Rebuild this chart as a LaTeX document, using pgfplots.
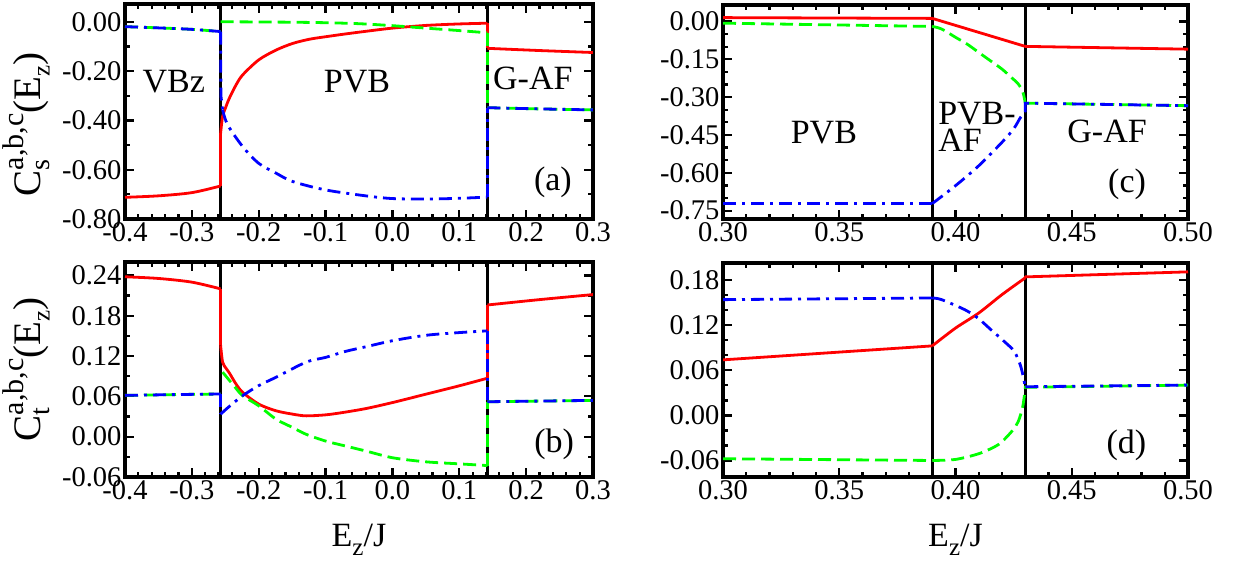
\documentclass[border=0pt]{standalone}
\usepackage{fontspec}
\setmainfont{Liberation Serif}
\usepackage{pgfplots}
\pgfplotsset{compat=1.18}

\definecolor{cred}{RGB}{255,0,0}
\definecolor{cgreen}{RGB}{0,255,0}
\definecolor{cblue}{RGB}{0,0,255}

% stacked super/subscripts set in the text font
\newcommand{\sbs}[2]{\rlap{\raisebox{-0.24em}{\fontsize{28}{28}\selectfont #1}}%
  \raisebox{0.42em}{\fontsize{30}{30}\selectfont #2}}
\newcommand{\sub}[1]{\raisebox{-0.24em}{\fontsize{25}{25}\selectfont #1}}

\pgfplotsset{
  panel/.style={
    scale only axis,
    anchor=south west,
    axis line style={line width=3.2pt},
    every tick/.style={black, line width=2.2pt},
    major tick length=9pt,
    minor tick length=5pt,
    tick label style={font=\fontsize{28.5}{28.5}\selectfont},
    /pgf/number format/assume math mode=true,
    scaled ticks=false,
    yticklabel style={/pgf/number format/.cd, fixed, fixed zerofill, precision=2},
  },
  sred/.style={cred, solid, line width=2.8pt, line join=round},
  sgreen/.style={cgreen, line width=2.8pt, dash pattern=on 13pt off 6pt},
  sblue/.style={cblue, line width=2.8pt, dash pattern=on 13pt off 6pt on 3pt off 6pt},
  phase/.style={black, solid, line width=3pt},
  ylab/.style={every axis y label/.style={at={(axis description cs:-0.16,#1)},
      rotate=90, anchor=south, inner sep=0pt, font=\fontsize{39}{39}\selectfont}},
  xlab/.style={every axis x label/.style={at={(axis description cs:0.5,0)},
      yshift=-70pt, anchor=base, inner sep=0pt, font=\fontsize{34}{34}\selectfont}},
  leftx/.style={xmin=-0.4, xmax=0.3, xtick={-0.4,-0.3,-0.2,-0.1,0,0.1,0.2,0.3},
      minor x tick num=4,
      xticklabel style={/pgf/number format/.cd, fixed, fixed zerofill, precision=1}},
  rightx/.style={xmin=0.3, xmax=0.5, xtick={0.3,0.35,0.4,0.45,0.5},
      minor x tick num=4,
      xticklabel style={/pgf/number format/.cd, fixed, fixed zerofill, precision=2}},
}
\tikzset{phasetxt/.style={inner sep=0pt, font=\fontsize{34}{34}\selectfont}}

\begin{document}
\begin{tikzpicture}
\path[use as bounding box] (0,0) rectangle (1243pt,567pt);

% (a) spin correlations, left range
\begin{axis}[panel, leftx, at={(125pt,348pt)}, width=468pt, height=215pt,
  ymin=-0.8, ymax=0.073, ytick={-0.8,-0.6,-0.4,-0.2,0}, minor y tick num=1,
  ylab=0.44, ylabel={C\sbs{s}{a,b,c}(E\sub{z})}]
\addplot[phase] coordinates {(-0.257,-0.8) (-0.257,0.073)};
\addplot[phase] coordinates {(0.142,-0.8) (0.142,0.073)};
% red
\addplot[sred, smooth] coordinates {(-0.4,-0.712) (-0.35,-0.706) (-0.30,-0.693) (-0.257,-0.666)};
\addplot[sred] coordinates {(-0.257,-0.666) (-0.257,-0.452)};
\addplot[sred, smooth] coordinates {
 (-0.257,-0.452) (-0.254,-0.384) (-0.249,-0.344) (-0.244,-0.310) (-0.234,-0.256)
 (-0.224,-0.215) (-0.2,-0.154) (-0.174,-0.114) (-0.149,-0.087) (-0.124,-0.070)
 (-0.1,-0.060) (-0.074,-0.050) (-0.04,-0.038) (0.0,-0.025) (0.05,-0.014)
 (0.1,-0.008) (0.142,-0.005)};
\addplot[sred] coordinates {(0.142,-0.005) (0.142,-0.107)};
\addplot[sred, smooth] coordinates {(0.142,-0.107) (0.22,-0.116) (0.3,-0.124)};
% green
\addplot[sgreen, smooth] coordinates {(-0.4,-0.019) (-0.35,-0.024) (-0.3,-0.030) (-0.257,-0.039)};
\addplot[sgreen, smooth] coordinates {
 (-0.257,0.001) (-0.2,0.000) (-0.15,-0.001) (-0.1,-0.003) (-0.05,-0.007)
 (0.0,-0.015) (0.05,-0.025) (0.1,-0.035) (0.142,-0.044)};
\addplot[sgreen] coordinates {(0.142,-0.044) (0.142,-0.348)};
\addplot[sgreen, smooth] coordinates {(0.142,-0.348) (0.22,-0.353) (0.3,-0.357)};
% blue
\addplot[sblue, smooth] coordinates {(-0.4,-0.019) (-0.35,-0.024) (-0.3,-0.030) (-0.257,-0.039)};
\addplot[sblue] coordinates {(-0.257,-0.039) (-0.2565,-0.30) (-0.254,-0.357)};
\addplot[sblue, smooth] coordinates {
 (-0.254,-0.357) (-0.2464,-0.418) (-0.224,-0.506) (-0.2,-0.574) (-0.174,-0.614)
 (-0.149,-0.648) (-0.1,-0.682) (-0.04,-0.706) (0.0,-0.717) (0.05,-0.719)
 (0.1,-0.716) (0.142,-0.711)};
\addplot[sblue] coordinates {(0.142,-0.711) (0.142,-0.348)};
\addplot[sblue, smooth] coordinates {(0.142,-0.348) (0.22,-0.353) (0.3,-0.357)};
\node[phasetxt] at (axis cs:-0.327,-0.244) {VBz};
\node[phasetxt] at (axis cs:-0.053,-0.244) {PVB};
\node[phasetxt] at (axis cs:0.210,-0.231) {G-AF};
\node[phasetxt] at (axis cs:0.240,-0.650) {(a)};
\end{axis}

% (b) transverse correlations, left range
\begin{axis}[panel, leftx, at={(125pt,90pt)}, width=468pt, height=215pt,
  ymin=-0.06, ymax=0.26, ytick={-0.06,0,0.06,0.12,0.18,0.24}, minor y tick num=1,
  ylab=0.5, ylabel={C\sbs{t}{a,b,c}(E\sub{z})},
  xlab, xlabel={E\sub{z}/J}]
\addplot[phase] coordinates {(-0.257,-0.06) (-0.257,0.26)};
\addplot[phase] coordinates {(0.142,-0.06) (0.142,0.26)};
% red
\addplot[sred, smooth] coordinates {(-0.4,0.238) (-0.35,0.2355) (-0.3,0.230) (-0.257,0.220)};
\addplot[sred] coordinates {(-0.257,0.220) (-0.257,0.136)};
\addplot[sred, smooth] coordinates {
 (-0.257,0.136) (-0.254,0.111) (-0.249,0.102) (-0.244,0.095) (-0.234,0.0785)
 (-0.224,0.066) (-0.2,0.0485) (-0.174,0.0385) (-0.149,0.0335) (-0.129,0.031)
 (-0.1,0.0325) (-0.074,0.036) (-0.039,0.042) (0.001,0.051) (0.051,0.0635)
 (0.101,0.076) (0.142,0.087)};
\addplot[sred] coordinates {(0.142,0.087) (0.142,0.196)};
\addplot[sred, smooth] coordinates {(0.142,0.196) (0.22,0.204) (0.3,0.2115)};
% green
\addplot[sgreen, smooth] coordinates {(-0.4,0.0615) (-0.3,0.063) (-0.257,0.0635)};
\addplot[sgreen, smooth] coordinates {
 (-0.254,0.096) (-0.244,0.084) (-0.234,0.072) (-0.224,0.061) (-0.2,0.046)
 (-0.174,0.026) (-0.149,0.0135) (-0.129,0.0035) (-0.1,-0.0065) (-0.074,-0.013)
 (-0.039,-0.0215) (0.001,-0.0315) (0.051,-0.0375) (0.101,-0.0405) (0.142,-0.043)};
\addplot[sgreen] coordinates {(0.142,-0.043) (0.142,0.052)};
\addplot[sgreen, smooth] coordinates {(0.142,0.052) (0.22,0.053) (0.3,0.054)};
% blue
\addplot[sblue, smooth] coordinates {(-0.4,0.0615) (-0.3,0.063) (-0.257,0.0635)};
\addplot[sblue] coordinates {(-0.257,0.0635) (-0.257,0.0335)};
\addplot[sblue, smooth] coordinates {
 (-0.257,0.0335) (-0.244,0.045) (-0.224,0.061) (-0.2,0.076) (-0.174,0.0885)
 (-0.129,0.111) (-0.1,0.118) (-0.07,0.127) (-0.039,0.134) (0.001,0.143)
 (0.051,0.151) (0.101,0.155) (0.142,0.1575)};
\addplot[sblue] coordinates {(0.142,0.1575) (0.142,0.052)};
\addplot[sblue, smooth] coordinates {(0.142,0.052) (0.22,0.053) (0.3,0.054)};
\node[phasetxt] at (axis cs:0.242,-0.0113) {(b)};
\end{axis}

% (c) spin correlations, right range
\begin{axis}[panel, rightx, at={(723pt,348pt)}, width=465pt, height=214pt,
  ymin=-0.783, ymax=0.065, ytick={-0.75,-0.6,-0.45,-0.3,-0.15,0}, minor y tick num=2]
\addplot[phase] coordinates {(0.39,-0.783) (0.39,0.065)};
\addplot[phase] coordinates {(0.43,-0.783) (0.43,0.065)};
\addplot[sred] coordinates {(0.30,0.015) (0.39,0.012) (0.43,-0.099) (0.50,-0.110)};
\addplot[sgreen] coordinates {(0.30,-0.007) (0.39,-0.020)};
\addplot[sgreen, smooth] coordinates {
 (0.39,-0.020) (0.394,-0.030) (0.40,-0.063) (0.405,-0.090)
 (0.41,-0.123) (0.415,-0.156) (0.42,-0.189) (0.424,-0.222) (0.427,-0.248)
 (0.429,-0.281) (0.43,-0.324)};
\addplot[sgreen] coordinates {(0.43,-0.324) (0.50,-0.334)};
\addplot[sblue] coordinates {(0.30,-0.722) (0.39,-0.722)};
\addplot[sblue, smooth] coordinates {
 (0.39,-0.722) (0.40,-0.651) (0.41,-0.572) (0.42,-0.479)
 (0.425,-0.426) (0.428,-0.380) (0.43,-0.360)};
\addplot[sblue] coordinates {(0.43,-0.360) (0.43,-0.324) (0.50,-0.334)};
\node[phasetxt] at (axis cs:0.3434,-0.4415) {PVB};
\node[phasetxt, anchor=north west, align=left, font=\fontsize{34}{27}\selectfont]
  at (axis cs:0.3925,-0.3196) {PVB-\\AF};
\node[phasetxt] at (axis cs:0.4652,-0.434) {G-AF};
\node[phasetxt] at (axis cs:0.4738,-0.645) {(c)};
\end{axis}

% (d) transverse correlations, right range
\begin{axis}[panel, rightx, at={(723pt,90pt)}, width=465pt, height=214pt,
  ymin=-0.082, ymax=0.203, ytick={-0.06,0,0.06,0.12,0.18}, minor y tick num=2,
  xlab, xlabel={E\sub{z}/J}]
\addplot[phase] coordinates {(0.39,-0.082) (0.39,0.203)};
\addplot[phase] coordinates {(0.43,-0.082) (0.43,0.203)};
\addplot[sred] coordinates {(0.30,0.074) (0.39,0.0926)};
\addplot[sred, smooth] coordinates {
 (0.39,0.0926) (0.40,0.1163) (0.41,0.1364) (0.42,0.1609) (0.43,0.1832)};
\addplot[sred] coordinates {(0.43,0.1832) (0.43,0.1845) (0.50,0.1912)};
\addplot[sgreen] coordinates {(0.30,-0.0577) (0.39,-0.060)};
\addplot[sgreen, smooth] coordinates {
 (0.39,-0.060) (0.40,-0.0586) (0.41,-0.051) (0.4167,-0.042)
 (0.42,-0.035) (0.4246,-0.0198) (0.427,-0.008) (0.4289,0.0114) (0.43,0.036)};
\addplot[sgreen] coordinates {(0.43,0.036) (0.43,0.0375) (0.50,0.0404)};
\addplot[sblue] coordinates {(0.30,0.1542) (0.39,0.1564)};
\addplot[sblue, smooth] coordinates {
 (0.39,0.1564) (0.394,0.1542) (0.404,0.1408) (0.4096,0.1297)
 (0.4153,0.114) (0.421,0.0984) (0.4253,0.085) (0.4281,0.065) (0.43,0.0382)};
\addplot[sblue] coordinates {(0.43,0.0382) (0.50,0.0404)};
\node[phasetxt] at (axis cs:0.4735,-0.0398) {(d)};
\end{axis}
\end{tikzpicture}
\end{document}
